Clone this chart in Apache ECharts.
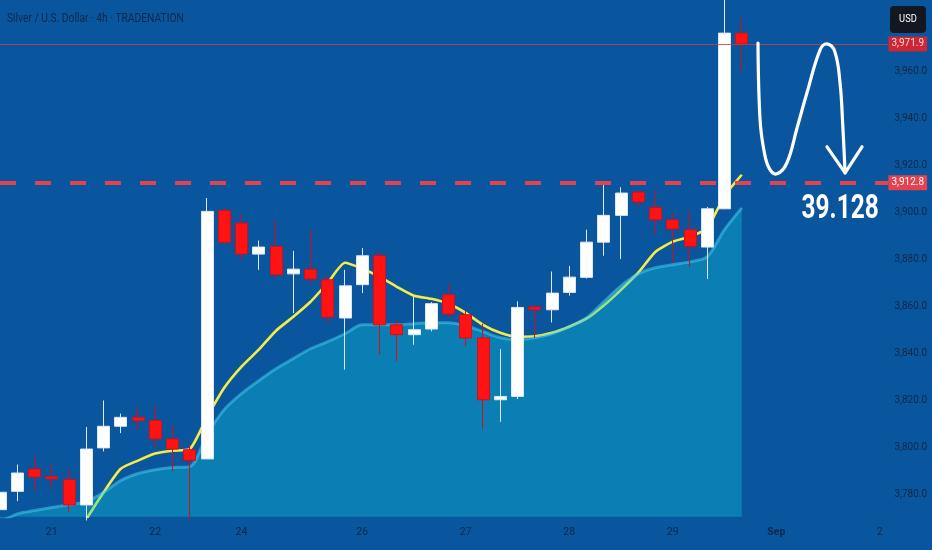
<!DOCTYPE html>
<html>
<head>
<meta charset="utf-8">
<script src="https://cdn.jsdelivr.net/npm/echarts@6/dist/echarts.min.js"></script>
<style>
html,body{margin:0;padding:0;background:#0a569e;}
#main{width:932px;height:550px;}
</style>
</head>
<body>
<div id="main"></div>
<script>
// ---- data (4h candles, silver / USD) ----
const opens  = [3773.6,3781.4,3790.9,3787.7,3786.4,3775.6,3799.9,3809.1,3812.9,3811.6,3803.7,3799.1,3795.2,3901.0,3895.6,3882.4,3885.7,3874.0,3876.0,3871.5,3855.2,3869.4,3881.8,3852.3,3848.1,3850.5,3865.1,3856.6,3846.7,3820.4,3821.8,3859.9,3858.7,3866.1,3872.5,3887.5,3898.9,3908.8,3902.3,3897.0,3892.8,3885.4,3901.7,3976.5];
const closes = [3781.0,3789.2,3787.5,3786.7,3775.6,3799.4,3809.1,3812.9,3811.5,3803.7,3799.4,3794.6,3900.6,3887.4,3882.4,3885.4,3873.6,3876.0,3871.8,3855.6,3868.9,3881.7,3852.3,3848.1,3850.2,3861.3,3856.9,3846.7,3820.4,3821.8,3859.7,3858.7,3865.8,3872.6,3887.5,3898.9,3908.4,3904.6,3897.0,3893.1,3885.7,3901.7,3976.5,3971.9];
const lows   = [3772.0,3777.2,3781.4,3782.4,3772.5,3769.0,3798.4,3806.2,3807.4,3799.9,3789.9,3769.0,3795.2,3886.5,3880.0,3875.7,3872.2,3857.3,3870.1,3853.1,3833.2,3865.8,3839.6,3836.7,3843.8,3849.5,3855.2,3843.1,3808.0,3811.0,3820.7,3846.7,3853.3,3864.7,3872.0,3881.7,3880.3,3902.7,3890.6,3878.6,3877.1,3871.8,3901.5,3960.1];
const highs  = [3783.0,3792.8,3796.3,3793.2,3790.9,3808.8,3820.1,3814.5,3816.9,3818.3,3809.8,3801.3,3906.3,3902.0,3899.6,3888.2,3897.0,3883.8,3892.8,3873.2,3875.7,3885.0,3883.5,3854.2,3864.4,3862.0,3869.8,3858.4,3852.8,3842.0,3862.3,3860.5,3875.0,3877.4,3892.8,3911.9,3910.9,3909.3,3909.5,3899.9,3901.0,3902.5,3995.0,3982.9];
// fast moving average (yellow)
const fastMA = [null,null,null,null,null,3769.5,3780.9,3791.0,3794.5,3797.5,3798.7,3799.4,3813.0,3825.5,3834.5,3841.7,3849.8,3855.7,3862.1,3870.2,3878.7,3876.2,3872.8,3868.5,3864.7,3863.4,3861.3,3857.4,3852.3,3848.9,3847.2,3847.4,3848.9,3851.5,3854.9,3860.5,3867.2,3874.5,3883.4,3887.7,3889.8,3893.6,3907.2,3916.2];
// slow moving average (area)
const slowMA = [3768.0,3771.8,3773.2,3774.5,3775.7,3777.0,3780.9,3786.0,3789.0,3790.6,3791.5,3791.9,3805.5,3816.2,3823.0,3828.5,3833.6,3837.9,3842.1,3845.1,3848.5,3852.3,3852.3,3852.3,3852.8,3853.2,3853.2,3851.9,3849.4,3846.8,3846.0,3846.8,3848.5,3851.5,3855.3,3862.1,3868.9,3874.0,3876.6,3877.9,3879.1,3881.3,3892.8,3902.1];
// x-axis tick labels (bar index -> text)
const tickIndex = [3, 9, 14, 21, 27, 33, 39, 45, 51];
const tickText  = ['21','22','24','26','27','28','29','Sep','2'];
// y-axis tick values
const yTicks = [3780,3800,3820,3840,3860,3880,3900,3920,3940,3960];
const lastPrice = 3971.9;
const levelPrice = 3912.8;
const levelText = '39.128';
const titleText = 'Silver / U.S. Dollar · 4h · TRADENATION';
// hand-drawn arrow annotation in data space (bar index, price)
const arrowIdx   = [43.94,44.06,44.30,44.60,45.04,45.62,46.20,46.78,47.54,47.94,48.40,48.70,48.85,48.99];
const arrowPrice = [3972.3,3939.6,3926.0,3918.8,3916.6,3921.3,3936.0,3951.1,3969.4,3971.9,3968.5,3955.0,3938.0,3917.0];
const headIdx    = [47.94,48.99,49.97];
const headPrice  = [3928.1,3917.0,3928.1];
const labelIdx = 48.7, labelPrice = 3901.3;

const ohlc = opens.map((o, i) => [i, o, closes[i], lows[i], highs[i]]);
const fastData = fastMA.map((v, i) => [i, v]).filter(p => p[1] !== null);
const slowData = slowMA.map((v, i) => [i, v]);

const font = 'Roboto, "Noto Sans", sans-serif';
const labelColor = '#0f2747';

const chart = echarts.init(document.getElementById('main'), null, {renderer: 'canvas'});
chart.setOption({
  animation: false,
  backgroundColor: '#0a569e',
  grid: {left: 0, right: 43.6, top: 0, bottom: 33.3, containLabel: false},
  xAxis: {
    type: 'value', min: 0, max: 51.5,
    axisLine: {show: false}, axisTick: {show: false}, splitLine: {show: false},
    axisLabel: {
      customValues: tickIndex, margin: 10, fontSize: 10.5, color: labelColor, fontFamily: font,
      formatter: function (v) {
        const k = tickIndex.indexOf(Math.round(v));
        if (k < 0) return '';
        return tickText[k] === 'Sep' ? '{b|Sep}' : tickText[k];
      },
      rich: {b: {fontWeight: 'bold', fontSize: 10.5, color: labelColor, fontFamily: font}}
    }
  },
  yAxis: {
    type: 'value', position: 'right', min: 3770.6, max: 3990.6, scale: true,
    axisLine: {show: false}, axisTick: {show: false}, splitLine: {show: false},
    axisLabel: {
      customValues: yTicks, margin: 6, fontSize: 10, color: labelColor, fontFamily: font,
      formatter: v => v.toLocaleString('en-US', {minimumFractionDigits: 1, maximumFractionDigits: 1})
    }
  },
  series: [
    {
      type: 'line', name: 'fast', data: fastData, z: 2, symbol: 'none', smooth: 0.2,
      lineStyle: {color: '#f7ec45', width: 2.6}
    },
    {
      type: 'line', name: 'slow', data: slowData, z: 3, symbol: 'none', smooth: 0.3,
      lineStyle: {color: 'rgba(70,210,240,0.5)', width: 3},
      areaStyle: {color: 'rgba(15,200,222,0.5)', origin: 'start'}
    },
    {
      type: 'candlestick', name: 'XAGUSD', data: ohlc, z: 4, barWidth: 12.5,
      dimensions: ['idx', 'open', 'close', 'lowest', 'highest'],
      encode: {x: 'idx', y: ['open', 'close', 'lowest', 'highest']},
      itemStyle: {color: '#ffffff', color0: '#ff1212', borderColor: '#dbe8f5', borderColor0: '#cc1020', borderWidth: 1},
      markLine: {
        silent: true, symbol: ['none', 'none'], animation: false,
        data: [
          {
            yAxis: levelPrice,
            lineStyle: {color: '#e4424f', width: 4, type: [16, 19]},
            label: {show: true, position: 'end', distance: 0, formatter: '3,912.8', color: '#ffffff',
                    backgroundColor: '#e4424f', padding: [3, 3, 2, 3], fontSize: 10, fontFamily: font}
          },
          {
            yAxis: lastPrice,
            lineStyle: {color: '#c2404e', width: 1, type: 'solid', opacity: 0.8},
            label: {show: true, position: 'end', distance: 0, formatter: '3,971.9', color: '#ffffff',
                    backgroundColor: '#ff1a1a', padding: [3, 3, 2, 3], fontSize: 10, fontFamily: font}
          }
        ]
      }
    }
  ]
});

function toPx(i, v) {
  return chart.convertToPixel({xAxisIndex: 0, yAxisIndex: 0}, [i, v]);
}
const arrowPts = arrowIdx.map((x, k) => toPx(x, arrowPrice[k]));
const headPts = headIdx.map((x, k) => toPx(x, headPrice[k]));
const lp = toPx(labelIdx, labelPrice);

chart.setOption({
  graphic: [
    {type: 'text', x: 7, y: 19, scaleX: 0.82, z: 20,
     style: {text: titleText, x: 0, y: 0, fill: '#0f2747', font: '12.5px ' + font, align: 'left', verticalAlign: 'middle'}},
    {type: 'rect', shape: {x: 890, y: 6, width: 36, height: 27, r: 4}, z: 20, style: {fill: '#131722'}},
    {type: 'text', x: 908, y: 19.5, scaleX: 0.85, z: 21,
     style: {text: 'USD', x: 0, y: 0, fill: '#ffffff', font: '11px ' + font, align: 'center', verticalAlign: 'middle'}},
    {type: 'polyline', z: 20, shape: {points: arrowPts, smooth: 0.4},
     style: {stroke: '#ffffff', lineWidth: 3.2, fill: null, lineCap: 'round', lineJoin: 'round'}},
    {type: 'polyline', z: 20, shape: {points: headPts},
     style: {stroke: '#ffffff', lineWidth: 3.2, fill: null, lineCap: 'round', lineJoin: 'round'}},
    {type: 'text', x: lp[0], y: lp[1], scaleX: 0.72, z: 20,
     style: {text: levelText, x: 0, y: 0, fill: '#ffffff', font: 'bold 34px ' + font, align: 'center', verticalAlign: 'middle'}}
  ]
});
</script>
</body>
</html>
